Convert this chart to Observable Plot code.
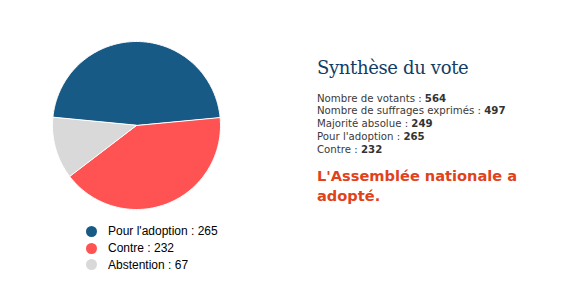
<!DOCTYPE html>
<html>
<head>
<meta charset="utf-8">
<script src="https://cdn.jsdelivr.net/npm/d3@7"></script>
<script src="https://cdn.jsdelivr.net/npm/@observablehq/plot@0.6"></script>
<style>
  html, body { margin: 0; padding: 0; background: #fff; }
  #page { position: relative; width: 573px; height: 291px; overflow: hidden; }
  #pie { position: absolute; left: 36px; top: 25px; }
  #legend { position: absolute; left: 86px; top: 223px; font-family: "Liberation Sans", Arial, sans-serif; font-size: 12px; color: #000; }
  #legend .item { display: flex; align-items: center; height: 16.8px; }
  #legend .sw { width: 11px; height: 11px; border-radius: 50%; margin-right: 11px; margin-left: 0px; }
  #summary { position: absolute; left: 317px; top: 57px; }
  #summary h2 { margin: 0; font-family: "DejaVu Serif", Georgia, serif; font-weight: normal; font-size: 18px; color: #123d66; letter-spacing: -0.35px; }
  #stats { margin-top: 14.5px; font-family: "DejaVu Sans", Verdana, sans-serif; font-size: 10.2px; line-height: 12.9px; color: #3a3a3a; }
  #stats b { color: #333; }
  #verdict { margin-top: 8.5px; font-family: "DejaVu Sans", Verdana, sans-serif; font-weight: bold; font-size: 14.6px; line-height: 20.5px; color: #e0431b; width: 230px; }
</style>
</head>
<body>
<div id="page">
  <div id="pie"></div>
  <div id="legend"></div>
  <div id="summary">
    <h2>Synthèse du vote</h2>
    <div id="stats"></div>
    <div id="verdict"></div>
  </div>
</div>
<script>
// Résultats du scrutin
const positions = ["Pour l'adoption", "Contre", "Abstention"];
const voix = [265, 232, 67];
const couleurs = ["#175a86", "#ff5252", "#d9d9d9"];

const statLabels = ["Nombre de votants", "Nombre de suffrages exprimés", "Majorité absolue", "Pour l'adoption", "Contre"];
const statValues = [564, 497, 249, 265, 232];
const verdict = "L'Assemblée nationale a adopté.";

const votes = positions.map((p, i) => ({position: p, voix: voix[i]}));

// Angles des parts : la part « Pour » est centrée en haut
const pourAngle = (voix[0] / d3.sum(voix)) * 2 * Math.PI;
const arcs = d3.pie()
  .value(d => d.voix)
  .sort(null)
  .startAngle(-pourAngle / 2)
  .endAngle(2 * Math.PI - pourAngle / 2)(votes);

// Chaque part devient un polygone (centre + arc échantillonné) en coordonnées planes
function slicePolygon(a) {
  const pts = [[0, 0]];
  const n = Math.max(2, Math.ceil((a.endAngle - a.startAngle) / (Math.PI / 180)));
  for (let k = 0; k <= n; k++) {
    const t = a.startAngle + (a.endAngle - a.startAngle) * k / n;
    pts.push([Math.sin(t), Math.cos(t)]);
  }
  pts.push([0, 0]);
  return {
    type: "Feature",
    properties: {position: a.data.position, voix: a.data.voix},
    geometry: {type: "Polygon", coordinates: [pts]}
  };
}
const slices = arcs.map(slicePolygon);

const disque = {
  type: "Polygon",
  coordinates: [d3.range(0, 361, 2).map(d => [Math.sin(d * Math.PI / 180), Math.cos(d * Math.PI / 180)])]
};

const chart = Plot.plot({
  width: 200,
  height: 200,
  margin: 0,
  inset: 16,
  projection: {type: "reflect-y", domain: disque},
  color: {domain: positions, range: couleurs},
  marks: [
    Plot.geo(slices, {fill: d => d.properties.position, stroke: "white", strokeWidth: 1})
  ]
});
document.getElementById("pie").appendChild(chart);

// Légende
const legend = document.getElementById("legend");
positions.forEach((p, i) => {
  const item = document.createElement("div");
  item.className = "item";
  const sw = document.createElement("span");
  sw.className = "sw";
  sw.style.background = couleurs[i];
  const label = document.createElement("span");
  label.textContent = `${p} : ${voix[i]}`;
  item.appendChild(sw);
  item.appendChild(label);
  legend.appendChild(item);
});

// Synthèse
const stats = document.getElementById("stats");
statLabels.forEach((l, i) => {
  const line = document.createElement("div");
  line.innerHTML = `${l} : <b>${statValues[i]}</b>`;
  stats.appendChild(line);
});
document.getElementById("verdict").textContent = verdict;
</script>
</body>
</html>
